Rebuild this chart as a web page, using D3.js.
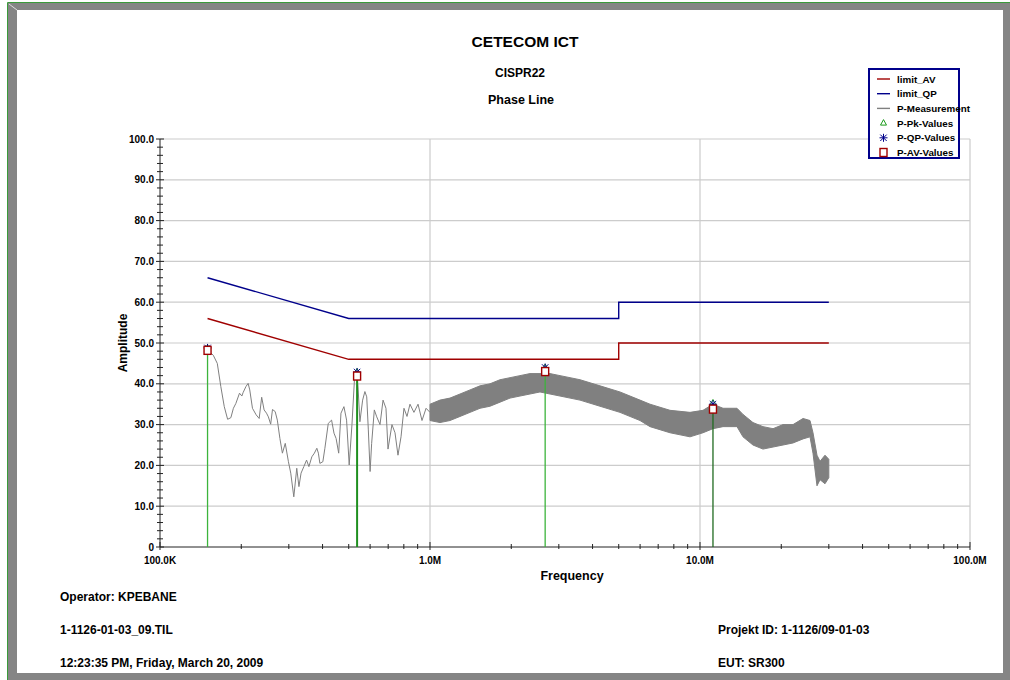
<!DOCTYPE html>
<html>
<head>
<meta charset="utf-8">
<script src="https://cdn.jsdelivr.net/npm/d3@7"></script>
<style>
  body { margin: 0; background: #fff; }
  svg text { font-family: "Liberation Sans", Arial, sans-serif; font-weight: bold; fill: #000; }
</style>
</head>
<body>
<svg id="EMI_CHART" width="1010" height="680"></svg>
<script>
// limit lines (kHz / dBuV)
const limitFreq = [150, 500, 5000, 5000, 30000];
const limitQP = [66, 56, 56, 60, 60];
const limitAV = [56, 46, 46, 50, 50];

// measurement trace, low band (single line)
const traceFreq = [150, 157.5, 163, 168, 173, 178, 183, 187, 191, 197, 201, 203, 208, 212, 215, 220, 227, 233, 238, 243,
  248, 252, 257, 261, 267, 272, 278, 284, 291, 299, 305, 313, 321, 327, 333, 341, 349, 356, 365, 373,
  381, 386, 391, 401, 408, 420, 432, 441, 449, 459, 468, 480, 491, 502, 514, 525, 537, 542, 550, 563,
  574, 583, 591, 600, 608, 622, 635, 653, 670, 687, 699, 723, 742, 761, 781, 801, 822, 843, 872, 903,
  934, 967, 1000];
const traceValue = [48.3, 47, 45, 39.3, 34.4, 31.3, 31.7, 34, 35.2, 37.7, 37, 37.8, 39.3, 40.1, 38.5, 34, 32.4, 31.5, 36.7, 33.6,
  32.8, 31.9, 30.1, 33.7, 33.2, 31.1, 26.6, 23, 25.4, 20.9, 18.1, 12.3, 19.3, 14.8, 18.1, 19.7, 21.3, 19.7, 22.1, 23,
  24.2, 23, 20.5, 20.9, 24.2, 30.3, 31.1, 27.9, 26.6, 23, 32.8, 34.4, 31.1, 20.1, 30, 41, 42, 38.5, 30.7, 36,
  38.1, 36.8, 28.7, 18.5, 25.4, 33.6, 31.9, 30, 36, 34, 24, 30, 28, 22.5, 27, 34, 32, 35, 33, 35,
  31, 34, 33];

const bandFreq = [1000, 1089, 1186, 1292, 1407, 1532, 1668, 1817, 1979, 2154, 2346, 2555, 2783, 3031, 3301, 3594, 4262, 5054, 5995, 6529,
  7743, 9183, 10260, 11170, 12170, 13710, 14430, 15710, 17110, 18640, 20300, 22110, 24080, 25550, 26210, 27120, 27830, 29040, 30000];
const bandLow = [31, 30.5, 31, 32, 33, 34, 34.5, 35.5, 36.5, 37, 37.5, 38, 37.5, 37, 36.5, 36, 34.5, 33, 31, 29.5,
  28, 27, 28, 29, 29.5, 29.5, 27, 25, 24, 24.5, 25, 25.5, 26.5, 27, 23, 15, 16.5, 15.5, 17];
const bandHigh = [35, 36, 36.5, 37.5, 38.5, 39.5, 40, 41, 41.5, 42, 42.5, 42.5, 42.5, 42, 41.5, 41, 39.5, 38, 36, 35,
  33.5, 33, 33.5, 35, 34, 34, 32.5, 30.5, 29.5, 29, 30, 30, 31.5, 31, 28, 22.5, 21, 22.5, 21.5];

// final measurement points
const peakFreq = [150, 537, 2670, 11170];
const pkValues = [48.8, 42.9, 44, 35.3];
const qpValues = [48.8, 42.9, 44, 35];
const avValues = [48.2, 41.9, 43, 33.8];

const yTicks = [0, 10, 20, 30, 40, 50, 60, 70, 80, 90, 100];
const yTickLabels = ["0", "10.0", "20.0", "30.0", "40.0", "50.0", "60.0", "70.0", "80.0", "90.0", "100.0"];
const xDecades = [100, 1000, 10000, 100000];
const xDecadeLabels = ["100.0K", "1.0M", "10.0M", "100.0M"];
const legendNames = ["limit_AV", "limit_QP", "P-Measurement", "P-Pk-Values", "P-QP-Values", "P-AV-Values"];

const AV_COLOR = "#a00000";
const QP_COLOR = "#00008b";
const MEAS_COLOR = "#808080";
const PK_COLOR = "#1a9a1a";

const svg = d3.select("#EMI_CHART");

// frame
svg.append("rect").attr("x", 8).attr("y", 3).attr("width", 1002).attr("height", 677).attr("fill", "#858585");
svg.append("rect").attr("x", 17).attr("y", 10).attr("width", 986).attr("height", 663).attr("fill", "#fff");
svg.append("line").attr("x1", 7.5).attr("y1", 2.5).attr("x2", 1010).attr("y2", 2.5).attr("stroke", "#3a9a3a");
svg.append("line").attr("x1", 7.5).attr("y1", 2.5).attr("x2", 7.5).attr("y2", 680).attr("stroke", "#3a9a3a");
svg.append("line").attr("x1", 9).attr("y1", 4).attr("x2", 17).attr("y2", 10).attr("stroke", "#ddd");

const plotLeft = 160, plotRight = 970, plotTop = 139, plotBottom = 547;
const x = d3.scaleLog().domain([100, 100000]).range([plotLeft, plotRight]);
const y = d3.scaleLinear().domain([0, 100]).range([plotBottom, plotTop]);

// titles
svg.append("text").attr("x", 525).attr("y", 47).attr("text-anchor", "middle").style("font-size", "15.5px").text("CETECOM ICT");
svg.append("text").attr("x", 520).attr("y", 77).attr("text-anchor", "middle").style("font-size", "12px").text("CISPR22");
svg.append("text").attr("x", 521).attr("y", 104).attr("text-anchor", "middle").style("font-size", "12.5px").text("Phase Line");

// grid
const grid = svg.append("g").attr("stroke", "#cccccc").attr("stroke-width", 1.2);
grid.selectAll("line.h").data(yTicks.slice(1)).join("line").attr("class", "h")
  .attr("x1", plotLeft).attr("x2", plotRight).attr("y1", (d) => y(d)).attr("y2", (d) => y(d));
grid.selectAll("line.v").data(xDecades.slice(1)).join("line").attr("class", "v")
  .attr("x1", (d) => x(d)).attr("x2", (d) => x(d)).attr("y1", plotTop).attr("y2", plotBottom);

// axes
const axis = svg.append("g").attr("stroke", "#222").attr("stroke-width", 1);
axis.append("line").attr("x1", plotLeft).attr("x2", plotLeft).attr("y1", plotTop).attr("y2", plotBottom);
axis.append("line").attr("x1", plotLeft).attr("x2", plotRight).attr("y1", plotBottom).attr("y2", plotBottom);
const yMinor = d3.range(0, 101, 2);
axis.selectAll("line.ym").data(yMinor).join("line").attr("class", "ym")
  .attr("x1", (d) => (d % 10 === 0 ? plotLeft - 4 : plotLeft - 3))
  .attr("x2", (d) => (d % 10 === 0 ? plotLeft + 4 : plotLeft + 3))
  .attr("y1", (d) => y(d)).attr("y2", (d) => y(d));
const xMinor = [];
xDecades.slice(0, 3).forEach((dec) => { for (let k = 2; k <= 9; k++) xMinor.push(dec * k); });
axis.selectAll("line.xm").data(xMinor).join("line").attr("class", "xm")
  .attr("x1", (d) => x(d)).attr("x2", (d) => x(d)).attr("y1", plotBottom - 3).attr("y2", plotBottom + 2);
axis.selectAll("line.xM").data(xDecades).join("line").attr("class", "xM")
  .attr("x1", (d) => x(d)).attr("x2", (d) => x(d)).attr("y1", plotBottom - 5).attr("y2", plotBottom + 3);

svg.append("g").selectAll("text").data(yTicks).join("text")
  .attr("x", plotLeft - 6).attr("y", (d) => y(d) + 3.5).attr("text-anchor", "end")
  .style("font-size", "10px").text((d, i) => yTickLabels[i]);
svg.append("g").selectAll("text").data(xDecades).join("text")
  .attr("x", (d) => x(d)).attr("y", plotBottom + 17).attr("text-anchor", "middle")
  .style("font-size", "10px").text((d, i) => xDecadeLabels[i]);

svg.append("text").attr("x", 572).attr("y", 580).attr("text-anchor", "middle").style("font-size", "12.5px").text("Frequency");
svg.append("text").attr("transform", "translate(127,343) rotate(-90)").attr("text-anchor", "middle")
  .style("font-size", "12px").text("Amplitude");

// limits
const limitLine = (vals) => d3.line().x((d) => x(d)).y((d, i) => y(vals[i]))(limitFreq);
svg.append("path").attr("d", limitLine(limitQP)).attr("fill", "none").attr("stroke", QP_COLOR).attr("stroke-width", 1.4);
svg.append("path").attr("d", limitLine(limitAV)).attr("fill", "none").attr("stroke", AV_COLOR).attr("stroke-width", 1.4);

// measurement
const band = d3.area().x((d) => x(d)).y0((d, i) => y(bandLow[i])).y1((d, i) => y(bandHigh[i]));
svg.append("path").attr("d", band(bandFreq)).attr("fill", MEAS_COLOR).attr("stroke", MEAS_COLOR).attr("stroke-width", 1);
const trace = d3.line().x((d) => x(d)).y((d, i) => y(traceValue[i]));
svg.append("path").attr("d", trace(traceFreq)).attr("fill", "none").attr("stroke", MEAS_COLOR).attr("stroke-width", 1);

// final points: stems, then markers
const stemColor = ["#3cb43c", "#1f8f1f", "#3cb43c", "#206a20"];
svg.append("g").selectAll("line").data(peakFreq).join("line")
  .attr("x1", (d) => x(d)).attr("x2", (d) => x(d))
  .attr("y1", (d, i) => y(avValues[i])).attr("y2", plotBottom)
  .attr("stroke", (d, i) => stemColor[i])
  .attr("stroke-width", (d, i) => (i === 1 ? 2 : 1.3));

const drawTriangle = (g, cx, cy) => g.append("path")
  .attr("d", `M${cx},${cy - 3.5}L${cx + 3},${cy + 2}L${cx - 3},${cy + 2}Z`)
  .attr("fill", "none").attr("stroke", PK_COLOR).attr("stroke-width", 1);
const drawStar = (g, cx, cy) => g.append("path")
  .attr("d", `M${cx - 4},${cy}H${cx + 4}M${cx},${cy - 4}V${cy + 4}M${cx - 3.2},${cy - 3.2}L${cx + 3.2},${cy + 3.2}M${cx - 3.2},${cy + 3.2}L${cx + 3.2},${cy - 3.2}`)
  .attr("fill", "none").attr("stroke", QP_COLOR).attr("stroke-width", 1);
const drawSquare = (g, cx, cy) => g.append("rect")
  .attr("x", cx - 3.5).attr("y", cy - 4).attr("width", 7).attr("height", 8)
  .attr("fill", "#fff").attr("stroke", AV_COLOR).attr("stroke-width", 1.4);

const marks = svg.append("g");
peakFreq.forEach((f, i) => {
  drawTriangle(marks, x(f), y(pkValues[i]));
  drawStar(marks, x(f), y(qpValues[i]));
  drawSquare(marks, x(f), y(avValues[i]));
});

// legend
const lg = svg.append("g");
lg.append("rect").attr("x", 869).attr("y", 69).attr("width", 90).attr("height", 89)
  .attr("fill", "#fff").attr("stroke", QP_COLOR).attr("stroke-width", 2);
legendNames.forEach((name, i) => {
  const ly = 79 + i * 14.7;
  if (i < 3) {
    lg.append("line").attr("x1", 877).attr("x2", 890).attr("y1", ly).attr("y2", ly)
      .attr("stroke", [AV_COLOR, QP_COLOR, MEAS_COLOR][i]).attr("stroke-width", 1.4);
  } else if (i === 3) {
    drawTriangle(lg, 883.5, ly);
  } else if (i === 4) {
    drawStar(lg, 883.5, ly);
  } else {
    drawSquare(lg, 883.5, ly);
  }
  lg.append("text").attr("x", 897).attr("y", ly + 3.5).style("font-size", "9.8px").text(name);
});

// footer
const footer = [
  ["Operator: KPEBANE", 60, 601],
  ["1-1126-01-03_09.TIL", 60, 634],
  ["12:23:35 PM, Friday, March 20, 2009", 60, 667],
  ["Projekt ID: 1-1126/09-01-03", 718, 634],
  ["EUT: SR300", 718, 667],
];
svg.append("g").selectAll("text").data(footer).join("text")
  .attr("x", (d) => d[1]).attr("y", (d) => d[2]).style("font-size", "12px").text((d) => d[0]);
</script>
</body>
</html>
